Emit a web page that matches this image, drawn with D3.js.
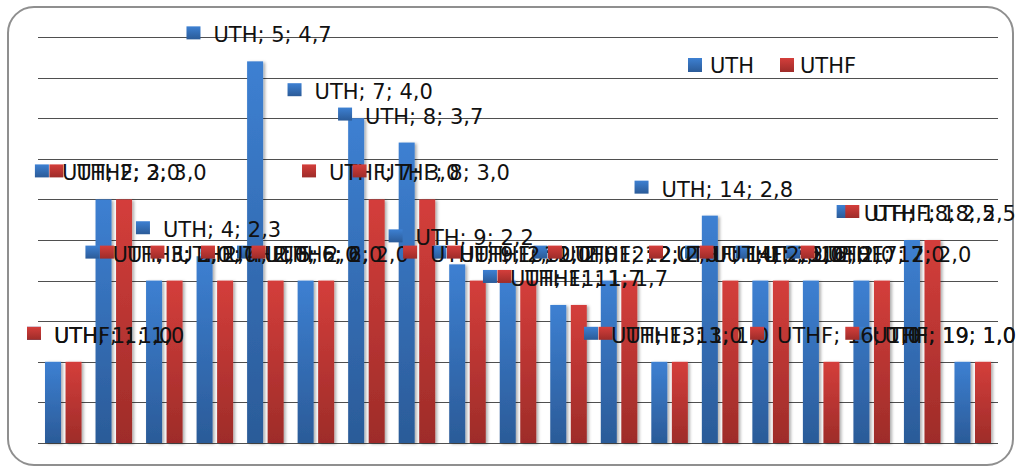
<!DOCTYPE html>
<html>
<head>
<meta charset="utf-8">
<script src="https://cdn.jsdelivr.net/npm/d3@7/dist/d3.min.js"></script>
<style>
  html, body { margin: 0; padding: 0; background: #ffffff; }
  svg { display: block; font-family: "DejaVu Sans", sans-serif; }
</style>
</head>
<body>
<svg id="chart" width="1016" height="468"></svg>
<script>
// Data
const categories = ["1","2","3","4","5","6","7","8","9","10","11","12","13","14","15","16","17","18","19"];
const seriesNames = ["UTH", "UTHF"];
const uthValues  = [1.0, 3.0, 2.0, 2.3, 4.7, 2.0, 4.0, 3.7, 2.2, 2.0, 1.7, 2.0, 1.0, 2.8, 2.0, 2.0, 2.0, 2.5, 1.0];
const uthfValues = [1.0, 3.0, 2.0, 2.0, 2.0, 2.0, 3.0, 3.0, 2.0, 2.0, 1.7, 2.0, 1.0, 2.0, 2.0, 1.0, 2.0, 2.5, 1.0];
const gridTicks  = [0, 0.5, 1, 1.5, 2, 2.5, 3, 3.5, 4, 4.5, 5];

const W = 1016, H = 468;
const plot = { left: 38, right: 998, top: 37, bottom: 443 };
const fontSize = 21;

const svg = d3.select("#chart");
const defs = svg.append("defs");

// Vertical gradients for the two series
const grads = [
  { id: "gUTH",  top: "#3d80d2", bottom: "#2b5b98" },
  { id: "gUTHF", top: "#d43e3b", bottom: "#9e2c29" }
];
grads.forEach(g => {
  const lg = defs.append("linearGradient").attr("id", g.id)
    .attr("x1", 0).attr("y1", 0).attr("x2", 0).attr("y2", 1);
  lg.append("stop").attr("offset", "0%").attr("stop-color", g.top);
  lg.append("stop").attr("offset", "100%").attr("stop-color", g.bottom);
});
const fillFor = { UTH: "url(#gUTH)", UTHF: "url(#gUTHF)" };

const shadow = defs.append("filter").attr("id", "barShadow")
  .attr("x", "-30%").attr("y", "-10%").attr("width", "160%").attr("height", "120%");
shadow.append("feDropShadow").attr("dx", 2).attr("dy", 1).attr("stdDeviation", 1.6)
  .attr("flood-color", "#000").attr("flood-opacity", 0.32);

// Chart frame
svg.append("rect")
  .attr("x", 8).attr("y", 7).attr("width", 1005).attr("height", 458)
  .attr("rx", 26).attr("ry", 26)
  .attr("fill", "#ffffff").attr("stroke", "#8f8f8f").attr("stroke-width", 2);

// Scales
const x0 = d3.scaleBand().domain(categories)
  .range([plot.left, plot.right]).paddingInner(0.277).paddingOuter(0.1385);
const x1 = d3.scaleBand().domain(seriesNames)
  .range([0, x0.bandwidth()]).paddingInner(0.22);
const y = d3.scaleLinear().domain([0, 5]).range([plot.bottom, plot.top]);

// Horizontal gridlines
svg.append("g").selectAll("line").data(gridTicks).join("line")
  .attr("x1", plot.left).attr("x2", plot.right)
  .attr("y1", d => Math.round(y(d)) + 0.5).attr("y2", d => Math.round(y(d)) + 0.5)
  .attr("stroke", "#4f4f4f").attr("stroke-width", 1.1);

// Rows: one entry per category and series
const rows = [];
seriesNames.forEach((s, si) => {
  const vals = si === 0 ? uthValues : uthfValues;
  categories.forEach((c, i) => rows.push({ series: s, cat: c, value: vals[i] }));
});

// Bars
svg.append("g").attr("filter", "url(#barShadow)")
  .selectAll("rect").data(rows).join("rect")
  .attr("x", d => x0(d.cat) + x1(d.series))
  .attr("y", d => y(d.value))
  .attr("width", x1.bandwidth())
  .attr("height", d => y(0) - y(d.value))
  .attr("fill", d => fillFor[d.series]);

// Data labels: "series; category; value" with a legend key
const locale = d3.formatLocale({ decimal: ",", thousands: ".", grouping: [3], currency: ["", ""] });
const fmt = locale.format(".1f");

const labelLayer = svg.append("g");
rows.forEach(d => {
  const g = labelLayer.append("g");
  g.append("rect").attr("x", 0).attr("y", -35).attr("width", 14).attr("height", 13)
    .attr("fill", fillFor[d.series]);
  const t = g.append("text").attr("x", 27).attr("y", -19)
    .attr("font-size", fontSize).attr("fill", "#111")
    .text(`${d.series}; ${d.cat}; ${fmt(d.value)}`);
  const total = 27 + t.node().getComputedTextLength();
  const cx = x0(d.cat) + x1(d.series) + x1.bandwidth() / 2 + 4;
  let left = cx - total / 2;
  if (left + total > W) left = W - total;
  if (left < 27) left = 27;
  g.attr("transform", `translate(${left},${y(d.value)})`);
});

// Legend
const legend = svg.append("g");
[{ s: "UTH", mx: 688, tx: 710 }, { s: "UTHF", mx: 780, tx: 800 }].forEach(l => {
  legend.append("rect").attr("x", l.mx).attr("y", 58).attr("width", 14).attr("height", 14)
    .attr("fill", fillFor[l.s]);
  legend.append("text").attr("x", l.tx).attr("y", 73)
    .attr("font-size", fontSize).attr("fill", "#111").text(l.s);
});
</script>
</body>
</html>
